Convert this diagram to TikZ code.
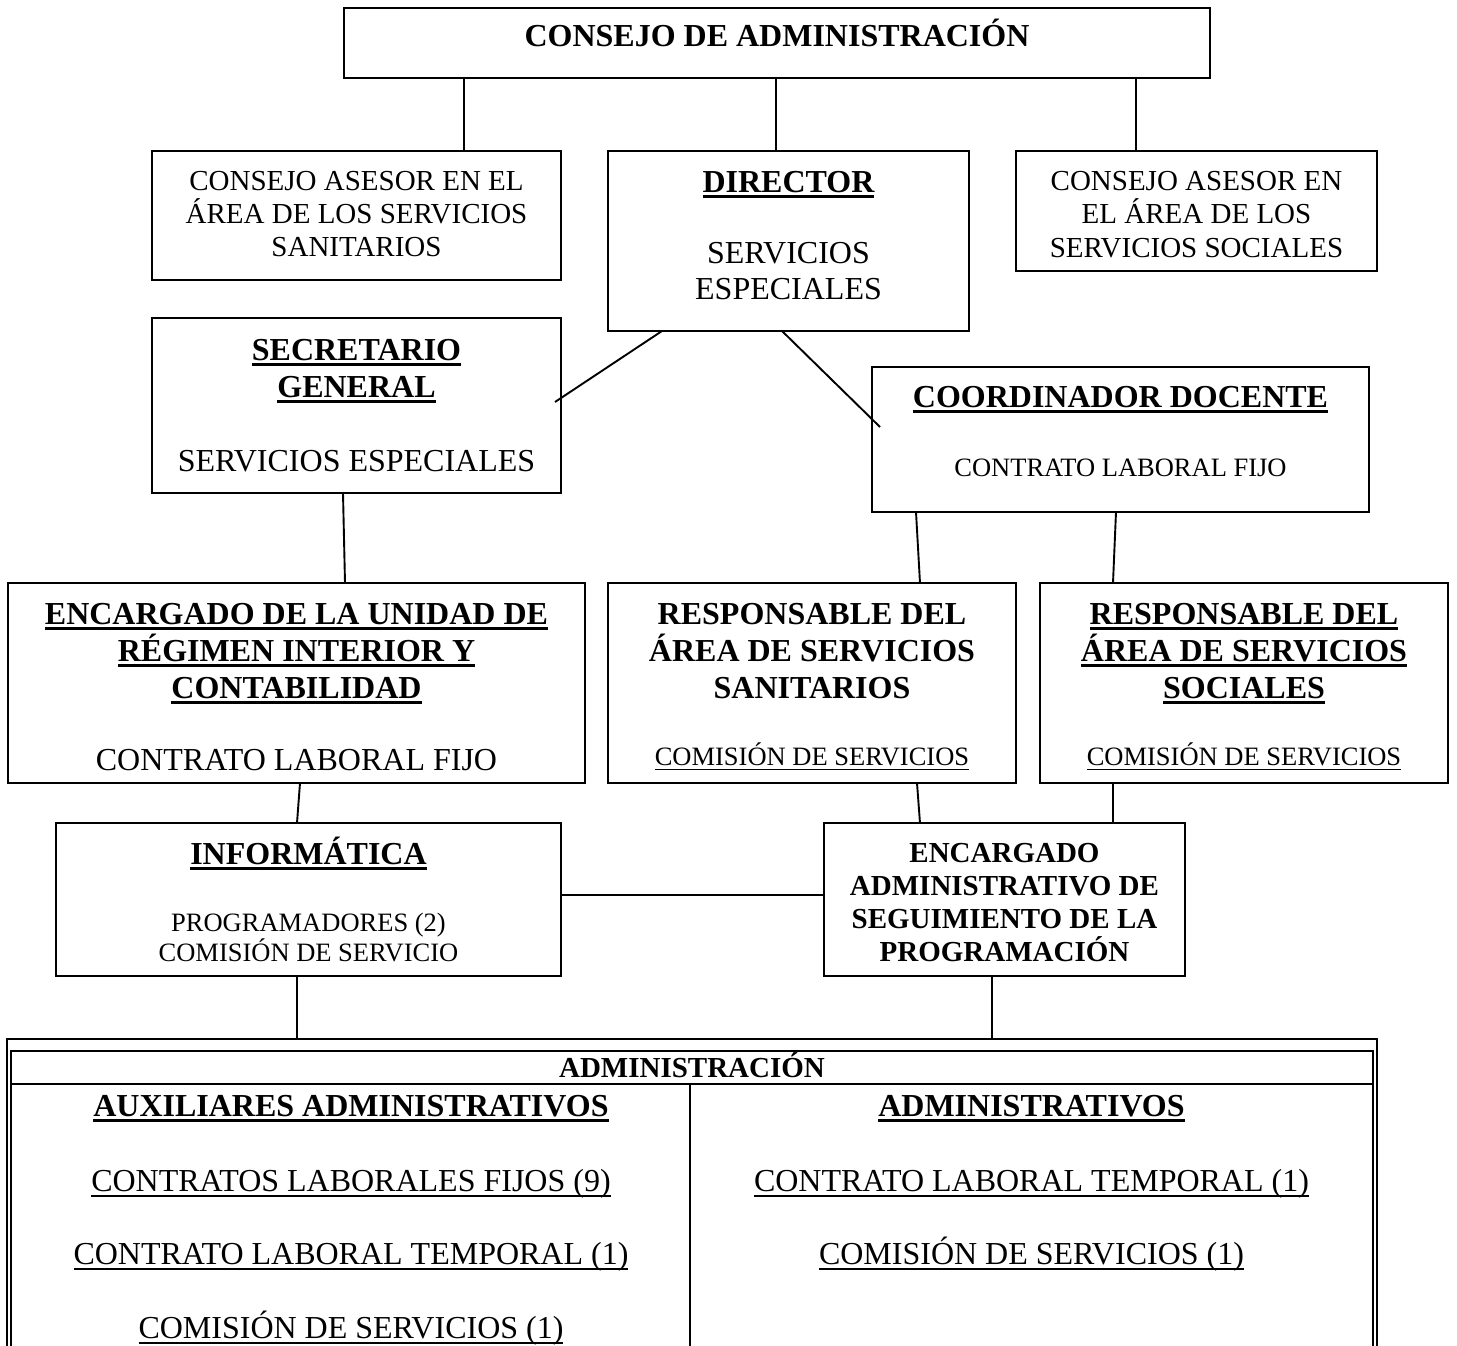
\documentclass[tikz,border=0pt]{standalone}
\usepackage{fontspec}
\setmainfont{Liberation Serif}
\usetikzlibrary{calc}
\newcommand\ulb[1]{\leavevmode\setbox0\hbox{#1}\rlap{\rule[-0.18em]{\wd0}{0.1em}}\box0}
\newcommand\ulr[1]{\leavevmode\setbox0\hbox{#1}\rlap{\rule[-0.2em]{\wd0}{0.065em}}\box0}
\tikzset{
  box/.style={draw, line width=1.9pt, anchor=north west, inner sep=0pt, outer sep=0pt},
  link/.style={line width=1.9pt},
  tb/.style={anchor=base, inner sep=0pt, font=\fontsize{32}{36.8}\selectfont\bfseries},
  tr/.style={anchor=base, inner sep=0pt, font=\fontsize{32}{36.8}\selectfont},
  tm/.style={anchor=base, inner sep=0pt, font=\fontsize{29}{33.4}\selectfont},
  tmb/.style={anchor=base, inner sep=0pt, font=\fontsize{29}{33.4}\selectfont\bfseries},
  ts/.style={anchor=base, inner sep=0pt, font=\fontsize{26.5}{30.5}\selectfont},
}
\begin{document}
\begin{tikzpicture}[x=1pt,y=-1pt]
\useasboundingbox[fill=white] (0,0) rectangle (1457,1346);
% boxes
\node[box, minimum width=866, minimum height=70] (cda) at (344,8) {};
\node[box, minimum width=409, minimum height=129] (caL) at (152,151) {};
\node[box, minimum width=361, minimum height=180] (dir) at (608,151) {};
\node[box, minimum width=361, minimum height=120] (caR) at (1016,151) {};
\node[box, minimum width=409, minimum height=175] (sec) at (152,318) {};
\node[box, minimum width=497, minimum height=145] (coord) at (872,367) {};
\node[box, minimum width=577, minimum height=200] (enc) at (8,583) {};
\node[box, minimum width=408, minimum height=200] (rsan) at (608,583) {};
\node[box, minimum width=408, minimum height=200] (rsoc) at (1040,583) {};
\node[box, minimum width=505, minimum height=153] (inf) at (56,823) {};
\node[box, minimum width=361, minimum height=153] (eadm) at (824,823) {};
% table (runs off the bottom of the page)
\node[box, minimum width=1370, minimum height=420] (tabO) at (7,1039) {};
\node[box, minimum width=1362, minimum height=410] (tabI) at (11,1051) {};
\node[box, line width=2.4pt, minimum width=1362, minimum height=33] (hdr) at (11,1051) {};
\draw[link] ($(hdr.south west)+(679,0)$) -- ($(tabI.south west)+(679,0)$);

% connectors
\draw[link] ($(cda.south west)+(120,0)$) -- ($(caL.north west)+(312,0)$);
\draw[link] ($(cda.south west)+(432,0)$) -- ($(dir.north west)+(168,0)$);
\draw[link] ($(cda.south west)+(792,0)$) -- ($(caR.north west)+(120,0)$);
\draw[link] ($(dir.south west)+(54,0)$) -- ($(sec.north east)+(-6,84)$);
\draw[link] ($(dir.south west)+(174,0)$) -- ($(coord.north west)+(8,60)$);
\draw[link] ($(sec.south west)+(191,0)$) -- ($(enc.north west)+(337,0)$);
\draw[link] ($(coord.south west)+(44,0)$) -- ($(rsan.north west)+(312,0)$);
\draw[link] ($(coord.south west)+(244,0)$) -- ($(rsoc.north west)+(73,0)$);
\draw[link] ($(enc.south west)+(292,0)$) -- ($(inf.north west)+(241,0)$);
\draw[link] ($(rsan.south west)+(309,0)$) -- ($(eadm.north west)+(96,0)$);
\draw[link] ($(rsoc.south west)+(73,0)$) -- ($(eadm.north west)+(289,0)$);
\draw[link] ($(inf.north east)+(0,72)$) -- ($(eadm.north west)+(0,72)$);
\draw[link] ($(inf.south west)+(241,0)$) -- ($(tabO.north west)+(290,0)$);
\draw[link] ($(eadm.south west)+(168,0)$) -- ($(tabO.north west)+(985,0)$);

% texts
\node[tb] (t01) at (777,47) {CONSEJO DE ADMINISTRACIÓN};

\node[tm] (t02) at (356.5,190) {CONSEJO ASESOR EN EL};
\node[tm] (t03) at (356.5,223) {ÁREA DE LOS SERVICIOS};
\node[tm] (t04) at (356.5,256) {SANITARIOS};

\node[tb] (t05) at (788.5,192) {\ulb{DIRECTOR}};
\node[tr] (t06) at (788.5,263) {SERVICIOS};
\node[tr] (t07) at (788.5,299) {ESPECIALES};

\node[tm] (t08) at (1196.5,190) {CONSEJO ASESOR EN};
\node[tm] (t09) at (1196.5,223) {EL ÁREA DE LOS};
\node[tm] (t10) at (1196.5,257) {SERVICIOS SOCIALES};

\node[tb] (t11) at (356.5,360) {\ulb{SECRETARIO}};
\node[tb] (t12) at (356.5,397) {\ulb{GENERAL}};
\node[tr] (t13) at (356.5,471) {SERVICIOS ESPECIALES};

\node[tb] (t14) at (1120.5,407) {\ulb{COORDINADOR DOCENTE}};
\node[ts] (t15) at (1120.5,476) {CONTRATO LABORAL FIJO};

\node[tb] (t16) at (296.5,624) {\ulb{ENCARGADO DE LA UNIDAD DE}};
\node[tb] (t17) at (296.5,661) {\ulb{RÉGIMEN INTERIOR Y}};
\node[tb] (t18) at (296.5,698) {\ulb{CONTABILIDAD}};
\node[tr] (t19) at (296.5,770) {CONTRATO LABORAL FIJO};

\node[tb] (t20) at (812,624) {RESPONSABLE DEL};
\node[tb] (t21) at (812,661) {ÁREA DE SERVICIOS};
\node[tb] (t22) at (812,698) {SANITARIOS};
\node[ts] (t23) at (812,765) {\ulr{COMISIÓN DE SERVICIOS}};

\node[tb] (t24) at (1244,624) {\ulb{RESPONSABLE DEL}};
\node[tb] (t25) at (1244,661) {\ulb{ÁREA DE SERVICIOS}};
\node[tb] (t26) at (1244,698) {\ulb{SOCIALES}};
\node[ts] (t27) at (1244,765) {\ulr{COMISIÓN DE SERVICIOS}};

\node[tb] (t28) at (308.5,864) {\ulb{INFORMÁTICA}};
\node[ts] (t29) at (308.5,931) {PROGRAMADORES (2)};
\node[ts] (t30) at (308.5,961) {COMISIÓN DE SERVICIO};

\node[tmb] (t31) at (1004.5,862) {ENCARGADO};
\node[tmb] (t32) at (1004.5,895) {ADMINISTRATIVO DE};
\node[tmb] (t33) at (1004.5,928) {SEGUIMIENTO DE LA};
\node[tmb] (t34) at (1004.5,961) {PROGRAMACIÓN};

\node[tmb] (t35) at (692,1077) {ADMINISTRACIÓN};
\node[tb] (t36) at (351,1116) {\ulb{AUXILIARES ADMINISTRATIVOS}};
\node[tr] (t37) at (351,1191) {\ulr{CONTRATOS LABORALES FIJOS (9)}};
\node[tr] (t38) at (351,1264) {\ulr{CONTRATO LABORAL TEMPORAL (1)}};
\node[tr] (t39) at (351,1338) {\ulr{COMISIÓN DE SERVICIOS (1)}};
\node[tb] (t40) at (1031.5,1116) {\ulb{ADMINISTRATIVOS}};
\node[tr] (t41) at (1031.5,1191) {\ulr{CONTRATO LABORAL TEMPORAL (1)}};
\node[tr] (t42) at (1031.5,1264) {\ulr{COMISIÓN DE SERVICIOS (1)}};
\end{tikzpicture}
\end{document}
